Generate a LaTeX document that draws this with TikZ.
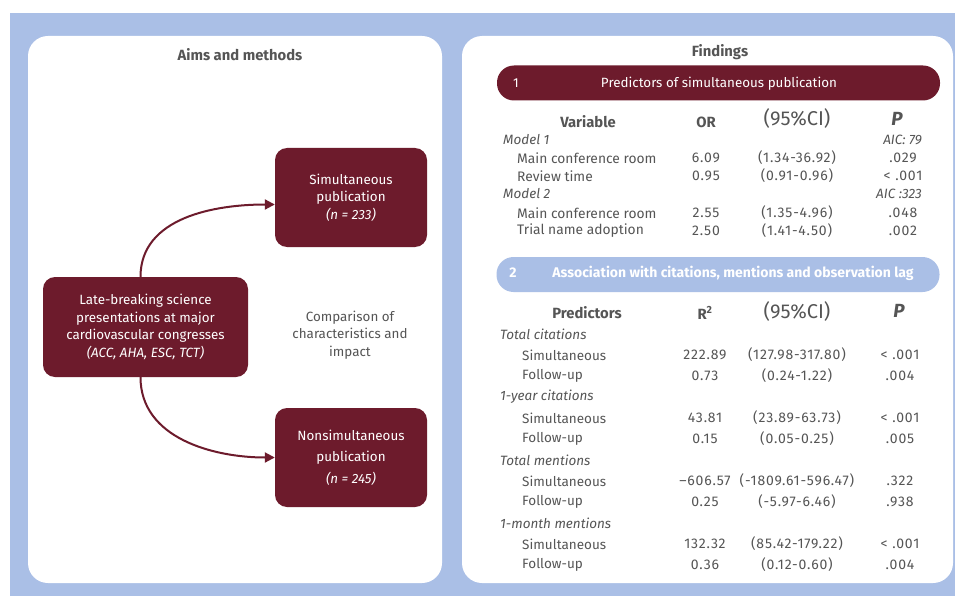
\documentclass[tikz,border=0pt]{standalone}
\usepackage{fontspec}
\setmainfont{Fira Sans}
\usetikzlibrary{arrows.meta}
\definecolor{bgblue}{HTML}{AABFE6}
\definecolor{darkred}{HTML}{6D1B2C}
\definecolor{txtgrey}{HTML}{555555}
\tikzset{
  panel/.style={fill=white, rounded corners=20pt},
  title/.style={font=\bfseries\fontsize{14.8}{17}\selectfont, text=txtgrey},
  redbox/.style={fill=darkred, text=white, rounded corners=12pt, align=center,
    minimum width=152pt, minimum height=99pt, inner sep=0pt,
    font=\fontsize{13.4}{17.5}\selectfont},
  flow/.style={darkred, line width=2pt, -{Triangle[length=10pt,width=10pt]}},
  bar/.style={rounded corners=17pt, minimum width=443pt, minimum height=35pt, inner sep=0pt},
  bartext/.style={text=white, inner sep=0pt},
  cell/.style={font=\fontsize{13.5}{15}\selectfont, text=txtgrey, inner sep=0pt},
  num/.style={cell, font=\fontsize{14}{15}\selectfont\addfontfeature{LetterSpace=6}},
  group/.style={cell, font=\itshape\fontsize{13.5}{15}\selectfont, anchor=west},
  head/.style={cell, font=\bfseries\fontsize{14.8}{17}\selectfont},
  cihead/.style={cell, font=\fontsize{20}{22}\selectfont},
  phead/.style={cell, font=\bfseries\itshape\fontsize{19}{21}\selectfont}
}
\begin{document}
\begin{tikzpicture}[x=1pt, y=-1pt]
  \useasboundingbox (0,0) rectangle (955,596);
  \fill[bgblue] (10,13) rectangle (955,596);
  \path[panel] (28,36) rectangle (442,583);
  \path[panel] (462,36) rectangle (953,583);

  % aims and methods
  \node[title] (aims) at (240,55) {Aims and methods};
  \node[redbox, minimum width=205pt, minimum height=100pt] (src) at (145.5,327)
    {Late-breaking science\\presentations at major\\cardiovascular congresses\\\textit{(ACC, AHA, ESC, TCT)}};
  \node[redbox] (sim) at (351,197.5) {Simultaneous\\publication\\\textit{(n = 233)}};
  \node[redbox, font=\fontsize{13.4}{21.5}\selectfont] (nonsim) at (351,457.5)
    {Nonsimultaneous\\publication\\\textit{(n = 245)}};
  \node[cell, align=center, font=\fontsize{13.4}{17.5}\selectfont] (comp) at (350,335)
    {Comparison of\\characteristics and\\impact};
  \draw[flow] ([xshift=-5pt]src.north) to[out=90, in=180] ([yshift=-7pt]sim.west);
  \draw[flow] ([xshift=-5pt]src.south) to[out=-90, in=180] (nonsim.west);

  % findings
  \node[title] (find) at (720,52) {Findings};
  \node[bar, fill=darkred] (bar1) at (718.5,83) {};
  \node[bartext, font=\fontsize{13}{15}\selectfont] (bar1n) at (516,83) {1};
  \node[bartext, font=\fontsize{13.4}{15}\selectfont] (bar1t) at (719,84) {Predictors of simultaneous publication};

  \node[head] (h1var) at (588,122) {Variable};
  \node[head] (h1or) at (706,122) {OR};
  \node[cihead] (h1ci) at (797,119) {(95\%CI)};
  \node[phead] (h1p) at (897,119) {P};
  \node[group] (m1) at (503,140) {Model 1};
  \node[group, anchor=east] (aic1) at (922,140) {AIC: 79};
  \node[group] (m2) at (503,194) {Model 2};
  \node[group, anchor=east] (aic2) at (922,194) {AIC :323};
  \foreach \y/\lab/\val/\ci/\p [count=\i] in
    {158/Main conference room/6.09/(1.34-36.92)/.029,
     176/Review time/0.95/(0.91-0.96)/{<\ .001},
     213/Main conference room/2.55/(1.35-4.96)/.048,
     231/Trial name adoption/2.50/(1.41-4.50)/.002}{
    \node[cell, anchor=west, font=\fontsize{13.8}{15}\selectfont] (ta\i lab) at (517,\y) {\lab};
    \node[num] (ta\i val) at (706,\y) {\val};
    \node[num] (ta\i ci) at (797,\y) {\ci};
    \node[num] (ta\i p) at (903,\y) {\p};
  }

  \node[bar, fill=bgblue] (bar2) at (718,274.5) {};
  \node[bartext, font=\bfseries\fontsize{14}{16}\selectfont] (bar2n) at (513,273) {2};
  \node[bartext, font=\bfseries\fontsize{14}{16}\selectfont] (bar2t) at (733,273)
    {Association with citations, mentions and observation lag};

  \node[head] (h2var) at (587,313) {Predictors};
  \node[head] (h2r) at (705,313) {R\textsuperscript{2}};
  \node[cihead] (h2ci) at (797,311) {(95\%CI)};
  \node[phead] (h2p) at (899,311) {P};
  \foreach \y/\lab [count=\i] in
    {334/Total citations, 397/1-year citations, 460/Total mentions, 523/1-month mentions}{
    \node[group] (g\i) at (500,\y) {\lab};
  }
  \foreach \y/\lab/\val/\ci/\p [count=\i] in
    {355/Simultaneous/222.89/(127.98-317.80)/{<\ .001},
     376/Follow-up/0.73/(0.24-1.22)/.004,
     418/Simultaneous/43.81/(23.89-63.73)/{<\ .001},
     439/Follow-up/0.15/(0.05-0.25)/.005,
     481/Simultaneous/–606.57/(-1809.61-596.47)/.322,
     502/Follow-up/0.25/(-5.97-6.46)/.938,
     544/Simultaneous/132.32/(85.42-179.22)/{<\ .001},
     565/Follow-up/0.36/(0.12-0.60)/.004}{
    \node[cell, anchor=west] (tb\i lab) at (522,\y) {\lab};
    \node[num] (tb\i val) at (705,\y) {\val};
    \node[num] (tb\i ci) at (797,\y) {\ci};
    \node[num] (tb\i p) at (900,\y) {\p};
  }
\end{tikzpicture}
\end{document}
